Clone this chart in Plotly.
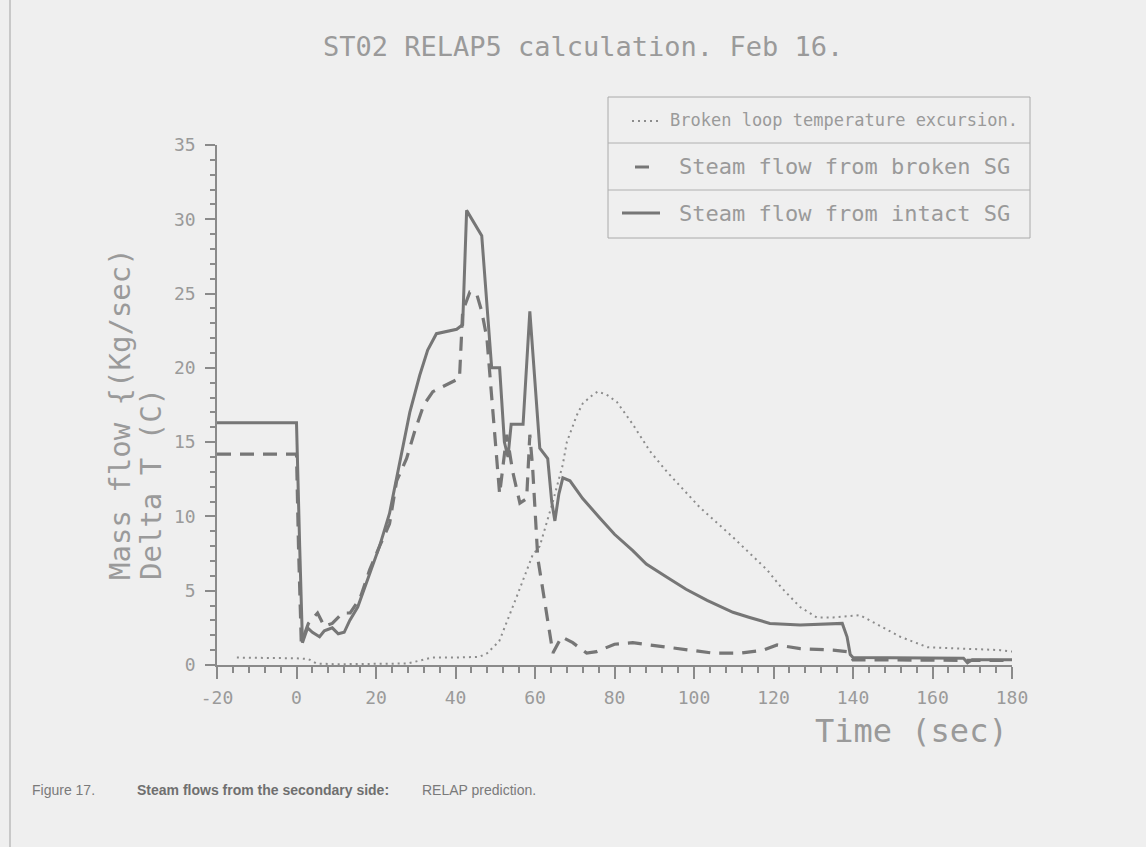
import plotly.graph_objects as go

# ---------------- data ----------------
intact_t = [-20, 0, 0.8, 1.5, 2.8, 4, 5.8, 7, 9, 10.5, 12, 13.4, 15.4, 18.4, 20.9, 23.4, 25.9, 28.5,
            31, 33, 35.2, 40.3, 41.8, 42.8, 46.6, 49.1, 51.1, 52.3, 53.2, 54, 57, 58.7, 61.2, 63.2,
            64.2, 65, 66, 67, 68.8, 72, 76.3, 80, 84.6, 88, 93.2, 98, 103.3, 109.8, 114, 119.1,
            126.7, 137.3, 138.5, 139.3, 140, 167.8, 168.8, 170, 180]
intact_v = [16.3, 16.3, 8, 1.5, 2.5, 2.2, 1.9, 2.3, 2.5, 2.1, 2.2, 3.0, 3.9, 6.2, 8.0, 10.2, 13.5, 17.0,
            19.5, 21.2, 22.3, 22.6, 22.9, 30.6, 28.9, 20.0, 20.0, 15.0, 14.0, 16.2, 16.2, 23.8, 14.6, 13.9,
            11.0, 9.7, 11.5, 12.6, 12.4, 11.2, 9.9, 8.8, 7.7, 6.8, 5.9, 5.1, 4.35, 3.55, 3.2, 2.8,
            2.7, 2.8, 1.9, 0.7, 0.5, 0.45, 0.15, 0.35, 0.35]

broken_t = [-20, 0, 0.5, 1.2, 3, 5.3, 7, 9, 11.6, 13.5, 16, 18.4, 20.9, 23.4, 25.2, 27.7, 29.7, 32,
            34.3, 39.3, 41, 41.8, 43.6, 45.3, 46.6, 47.9, 49.5, 51.1, 52.9, 54.4, 56.2, 57.9, 58.7,
            59.4, 60.7, 63, 64.5, 66.7, 69.5, 73, 75.5, 80, 84.6, 93.2, 104.8, 111.6, 117.4, 120.9,
            126.7, 135, 138.5, 140, 180]
broken_v = [14.2, 14.2, 8, 1.5, 2.8, 3.5, 2.6, 2.8, 3.5, 3.5, 4.5, 6.4, 8.0, 9.5, 12.4, 13.9, 15.7, 17.5,
            18.4, 19.1, 19.3, 23.8, 25.1, 25.0, 23.8, 22.0, 17.0, 11.5, 15.5, 13.0, 10.9, 11.2, 15.5,
            13.3, 7.2, 3.5, 0.8, 1.9, 1.5, 0.8, 0.9, 1.4, 1.5, 1.2, 0.8, 0.8, 1.0, 1.35,
            1.1, 1.0, 0.9, 0.35, 0.3]

temp_t = [-15, -10, -5, 0, 3, 5, 10, 20, 28, 31, 34, 40, 46, 48, 51, 55.4, 59.4, 61.2, 64.5, 67, 68,
          70.5, 72, 74.6, 75.8, 78, 80.6, 84.6, 88.9, 93.2, 101.5, 109.8, 118.4, 122, 126.7, 130.9,
          135, 141.8, 145, 151.9, 158.7, 168.8, 177, 180]
temp_v = [0.5, 0.5, 0.5, 0.45, 0.4, 0.1, 0.05, 0.05, 0.1, 0.3, 0.5, 0.5, 0.55, 0.8, 1.6, 4.6, 7.4, 8.0,
          11.0, 13.5, 15.0, 16.8, 17.6, 18.2, 18.4, 18.2, 17.7, 16.2, 14.4, 13.0, 10.6, 8.6, 6.4, 5.2,
          3.9, 3.2, 3.2, 3.35, 2.9, 1.9, 1.2, 1.1, 1.0, 0.9]

x_ticks = [-20, 0, 20, 40, 60, 80, 100, 120, 140, 160, 180]
x_tick_labels = ["-20", "0", "20", "40", "60", "80", "100", "120", "140", "160", "180"]
y_ticks = [0, 5, 10, 15, 20, 25, 30, 35]
y_tick_labels = ["0", "5", "10", "15", "20", "25", "30", "35"]

legend_labels = ["Broken loop temperature excursion.",
                 "Steam flow from broken SG",
                 "Steam flow from intact SG"]

title_text = "ST02 RELAP5 calculation. Feb 16."
x_title = "Time (sec)"
caption_parts = ["Figure 17.", "Steam flows from the secondary side:", "RELAP prediction."]

# ---------------- figure ----------------
W, H = 1146, 847
L, R, T, B = 217, 134, 145, 182
PW, PH = W - L - R, H - T - B

def px(xp):
    return (xp - L) / PW

def py(yp):
    return (H - B - yp) / PH

LINE = "#767676"
TXT = "#9a9a9a"
MONO = "DejaVu Sans Mono"

fig = go.Figure()
fig.add_trace(go.Scatter(x=temp_t, y=temp_v, mode="lines",
                         line=dict(color="#8c8c8c", width=2, dash="2px,4px"),
                         name=legend_labels[0]))
fig.add_trace(go.Scatter(x=broken_t, y=broken_v, mode="lines",
                         line=dict(color=LINE, width=3.2, dash="14px,9px"),
                         name=legend_labels[1]))
fig.add_trace(go.Scatter(x=intact_t, y=intact_v, mode="lines",
                         line=dict(color=LINE, width=3),
                         name=legend_labels[2]))

axis_common = dict(showgrid=False, zeroline=False, showline=True, linecolor="#8a8a8a",
                   linewidth=1.5, ticks="outside", tickcolor="#8a8a8a", tickwidth=1.5,
                   tickfont=dict(family=MONO, size=18, color=TXT))

fig.update_layout(
    width=W, height=H,
    margin=dict(l=L, r=R, t=T, b=B, pad=0),
    paper_bgcolor="#efefef", plot_bgcolor="#efefef",
    showlegend=False,
    xaxis=dict(range=[-20, 180], tickvals=x_ticks, ticktext=x_tick_labels, ticklen=12,
               ticklabelstandoff=4,
               minor=dict(dtick=4, tick0=0, ticklen=6, ticks="outside", tickcolor="#8a8a8a"),
               **axis_common),
    yaxis=dict(range=[0, 35], tickvals=y_ticks, ticktext=y_tick_labels, ticklen=10,
               ticklabelstandoff=6,
               minor=dict(dtick=1, ticklen=5, ticks="outside", tickcolor="#8a8a8a"),
               **axis_common),
)

ann = []
# title
ann.append(dict(text=title_text, x=px(583), y=py(46), xref="paper", yref="paper",
                showarrow=False, font=dict(family=MONO, size=27, color=TXT),
                xanchor="center", yanchor="middle"))
# x axis title
ann.append(dict(text=x_title, x=px(1010), y=py(731), xref="paper", yref="paper",
                showarrow=False, font=dict(family=MONO, size=32, color=TXT),
                xanchor="right", yanchor="middle"))
# y axis titles (rotated)
ann.append(dict(text="Mass flow {(Kg/sec)", x=px(120), y=py(582), xref="paper", yref="paper",
                showarrow=False, textangle=-90, font=dict(family=MONO, size=29, color=TXT),
                xanchor="center", yanchor="bottom"))
ann.append(dict(text="Delta T (C)", x=px(151), y=py(582), xref="paper", yref="paper",
                showarrow=False, textangle=-90, font=dict(family=MONO, size=29, color=TXT),
                xanchor="center", yanchor="bottom"))
# legend texts
ann.append(dict(text=legend_labels[0], x=px(668), y=py(120), xref="paper", yref="paper",
                showarrow=False, font=dict(family=MONO, size=17, color=TXT),
                xanchor="left", yanchor="middle"))
ann.append(dict(text=legend_labels[1], x=px(677), y=py(167), xref="paper", yref="paper",
                showarrow=False, font=dict(family=MONO, size=22, color=TXT),
                xanchor="left", yanchor="middle"))
ann.append(dict(text=legend_labels[2], x=px(677), y=py(213), xref="paper", yref="paper",
                showarrow=False, font=dict(family=MONO, size=22, color=TXT),
                xanchor="left", yanchor="middle"))
# caption
cap_fonts = [dict(family="Liberation Sans", size=14, color="#7a7a7a"),
             dict(family="Liberation Sans", size=14, color="#6f6f6f", weight="bold"),
             dict(family="Liberation Sans", size=14, color="#7a7a7a")]
for xp, t, f in zip([30, 135, 420], caption_parts, cap_fonts):
    ann.append(dict(text=t, x=px(xp), y=py(790), xref="paper", yref="paper",
                    showarrow=False, font=f, xanchor="left", yanchor="middle"))
fig.update_layout(annotations=ann)

shapes = []
# legend box
shapes.append(dict(type="rect", xref="paper", yref="paper", x0=px(608), x1=px(1030),
                   y0=py(238), y1=py(97), line=dict(color="#aaaaaa", width=1)))
for yy in (143, 190):
    shapes.append(dict(type="line", xref="paper", yref="paper", x0=px(608), x1=px(1030),
                       y0=py(yy), y1=py(yy), line=dict(color="#b0b0b0", width=1)))
# legend samples
shapes.append(dict(type="line", xref="paper", yref="paper", x0=px(632), x1=px(661),
                   y0=py(121), y1=py(121), line=dict(color="#8c8c8c", width=2, dash="2px,4px")))
shapes.append(dict(type="line", xref="paper", yref="paper", x0=px(635), x1=px(649),
                   y0=py(167), y1=py(167), line=dict(color=LINE, width=3)))
shapes.append(dict(type="line", xref="paper", yref="paper", x0=px(622), x1=px(660),
                   y0=py(213), y1=py(213), line=dict(color=LINE, width=3)))
# scan edge line on the left
shapes.append(dict(type="line", xref="paper", yref="paper", x0=px(10), x1=px(10),
                   y0=py(847), y1=py(0), line=dict(color="#c8c8c8", width=2)))
fig.update_layout(shapes=shapes)

fig.write_html("out.html")
